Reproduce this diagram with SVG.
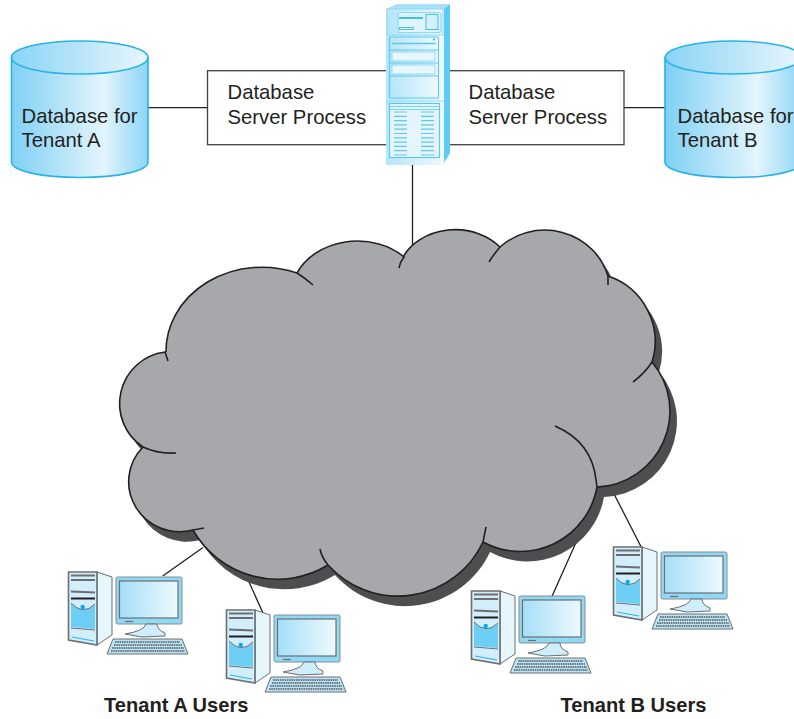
<svg xmlns="http://www.w3.org/2000/svg" xmlns:xlink="http://www.w3.org/1999/xlink" width="794" height="719" viewBox="0 0 794 719">
<style>
text{font-family:"Liberation Sans",Arial,sans-serif;fill:#231f20}
.l{font-size:20.3px}
.b{font-size:20.1px;font-weight:bold}
.c{fill:none;stroke:#231f20;stroke-width:1.3}
.box{fill:#fff;stroke:#414042;stroke-width:1.3}
.db{fill:url(#cyl);stroke:#27b3e8;stroke-width:1.6}
.dbt{fill:url(#cylt);stroke:#27b3e8;stroke-width:1.6}
.ol{fill:none;stroke:#231f20;stroke-width:1.6;stroke-linecap:butt}
.gy{fill:none;stroke:#6d6e71}
.sb{stroke:#5cc8f2;fill:none}
</style>
<defs>
<linearGradient id="cyl" x1="0" x2="1" y1="0" y2="0"><stop offset="0" stop-color="#7fd0f5"/><stop offset=".68" stop-color="#e4f5fc"/><stop offset=".72" stop-color="#d6f0fb"/><stop offset="1" stop-color="#8cd5f6"/></linearGradient>
<linearGradient id="cylt" x1="0" x2="1" y1="0" y2="0"><stop offset="0" stop-color="#8ad4f6"/><stop offset="1" stop-color="#e8f6fc"/></linearGradient>
<linearGradient id="scr" x1="0" x2="1" y1="0" y2="0"><stop offset="0" stop-color="#a5dff8"/><stop offset="1" stop-color="#eef9fd"/></linearGradient>
<linearGradient id="srv" x1="0" x2="1" y1="0" y2="0"><stop offset="0" stop-color="#b5e5fa"/><stop offset="1" stop-color="#eef9fd"/></linearGradient>
<path id="cloud" d="M143,447 A52,52 0 0 1 166,352 A96,84 0 0 1 297,273 A66,54 0 0 1 403,257 A58,48 0 0 1 500,247 A66,64 0 0 1 608,276 A69,69 0 0 1 652,362 A76,76 0 0 1 597,487 A78,78 0 0 1 483,542 A94,94 0 0 1 328,565 A97,97 0 0 1 193,530 A51,50 0 0 1 143,447 Z"/>
<g id="pc">
<path d="M97,572 L112,577 L112,635 L97,645 Z" fill="#e6f6fd" stroke="#6d6e71" stroke-width="1"/>
<path d="M68.500,572 H97 V645 L68.500,640 Z" fill="#d3eefb" stroke="#6d6e71" stroke-width="1.600"/>
<path d="M71,575.500 H95 M71,580 H95 M71,591.500 L95,592.500" class="gy" stroke-width="2"/>
<path d="M71,598.500 H95" stroke="#231f20" stroke-width="2"/>
<path d="M71,603 Q83,616 95,604 V629 L71,627 Z" fill="#6dcff6"/>
<path d="M71,603 Q83,616 95,604" class="gy" stroke-width="1"/>
<circle cx="82.700" cy="607" r="2.200" fill="#00aeef"/>
<path d="M71,628 L95,630" class="gy" stroke-width="1"/>
<path d="M72,637 L94,641" stroke="#29b6f0" stroke-width="1.200"/>
<rect x="116" y="577" width="66" height="47" rx="1.500" fill="#8fd9f7" stroke="#8a8c8e" stroke-width="1"/>
<rect x="119.500" y="581" width="58.500" height="37" fill="url(#scr)" stroke="#6d6e71" stroke-width="1.200"/>
<path d="M125,621.500 H133" stroke="#6d6e71" stroke-width="1.200"/>
<path d="M146,624 H157 Q157,630 165,633 V636 L142,637 L125,634 Q144,631 146,624 Z" fill="#cfeefb" stroke="#6d6e71" stroke-width="1"/>
<path d="M113,639 H182 L188,654 H107 Z" fill="#b9e4f6" stroke="#6d6e71" stroke-width="1"/>
<path d="M115,642 H180 M114,645 H182 M112,648 H184 M111,651 H185" stroke="#58595b" stroke-width="1.300" stroke-dasharray="1.600 .7"/>
</g>
</defs>

<g id="connectors">
<path class="c" d="M148,107.700 H208 M624,107.700 H666 M412.500,160 V250 M162.700,576 L203,547.500 M244,571 L263,613 M578,538 L551.700,597 M612,490 L641.700,548"/>
</g>

<g id="process-a"><rect class="box" x="207.500" y="70.700" width="190" height="74"/>
<text class="l" x="227.500" y="99">Database</text><text class="l" x="227.500" y="123.500">Server Process</text></g>
<g id="process-b"><rect class="box" x="440" y="70.700" width="184" height="74"/>
<text class="l" x="468.500" y="99">Database</text><text class="l" x="468.500" y="123.500">Server Process</text></g>

<g id="db-a">
<path class="db" d="M11.500,57.500 V162 C11.500,171 42,177.500 80,177.500 C118,177.500 148,171 148,162 V57.500 Z"/>
<ellipse class="dbt" cx="79.700" cy="57.500" rx="68.200" ry="16.500"/>
<text class="l" x="21.500" y="122.700">Database for</text><text class="l" x="21.500" y="146.700">Tenant A</text>
</g>
<g id="db-b">
<path class="db" d="M665,57.500 V162 C665,171 696,177.500 734,177.500 C772,177.500 802,171 802,162 V57.500 Z"/>
<ellipse class="dbt" cx="733.500" cy="57.500" rx="68.200" ry="16.500"/>
<text class="l" x="677.500" y="122.700">Database for</text><text class="l" x="677.500" y="146.700">Tenant B</text>
</g>

<g id="server">
<path d="M386,9 L397,4 H450 L444,9 Z" fill="#a8e0f8"/>
<path d="M444,9 L450,4 V153 L444,163 Z" fill="#5accf5"/>
<path d="M386,9 H444 V165 H386 Z" fill="url(#srv)"/>
<rect x="387" y="9" width="56" height="26" fill="url(#srv)" stroke="#8ed8f6" stroke-width="1"/>
<rect x="398" y="12.500" width="43" height="20" rx="2" fill="#dff4fc" stroke="#8ed8f6" stroke-width="1.200"/>
<rect x="426" y="14.500" width="12" height="15" fill="#d8f0fb" stroke="#3fbfee" stroke-width="1"/>
<path d="M399,18 H423" stroke="#3fbfee" stroke-width="2"/><path d="M399,15.500 H423" stroke="#d0eefb"/>
<rect x="399.500" y="27.500" width="14" height="2" fill="none" stroke="#3fbfee" stroke-width=".9"/>
<rect x="389.500" y="37" width="49" height="61" rx="1" fill="url(#srv)" stroke="#5cc8f2" stroke-width="1.100"/>
<path d="M392,43.500 H436" stroke="#5cc8f2" stroke-width="1.600"/>
<circle cx="434" cy="39.500" r="1" fill="#1fa8e0"/>
<path d="M390,50 H438 M390,63 H438 M390,76 H438" class="sb"/>
<rect x="392" y="52" width="43" height="9" fill="#e8f7fd" stroke="#8ed8f6"/>
<rect x="392" y="65" width="43" height="9" fill="#e8f7fd" stroke="#8ed8f6"/>
<path d="M386,101 H444" stroke="#9adcf7"/>
<rect x="389.500" y="103.500" width="50" height="54" fill="#e4f5fc" stroke="#5cc8f2" stroke-width="1.100"/>
<path d="M390,106.500 H439 M390,109.500 H439" class="sb" stroke-width=".8"/>
<path d="M394,112 H407 M421,112 H434 M394,116.300 H407 M421,116.300 H434 M394,120.600 H407 M421,120.600 H434 M394,124.900 H407 M421,124.900 H434 M394,129.200 H407 M421,129.200 H434 M394,133.500 H407 M421,133.500 H434 M394,137.800 H407 M421,137.800 H434 M394,142.100 H407 M421,142.100 H434 M394,146.400 H407 M421,146.400 H434 M394,150.700 H407 M421,150.700 H434 M394,155 H407 M421,155 H434" stroke="#5cc8f2" stroke-width="1.200"/>
</g>

<g id="cloud-network">
<use href="#cloud" xlink:href="#cloud" transform="translate(7,10)" fill="#4d4e50"/>
<use href="#cloud" xlink:href="#cloud" fill="#a7a8ab"/>
<path class="ol" d="M176,453 Q158,454 143,447 A52,52 0 0 1 165,352 L168,361"/>
<path class="ol" d="M166,352 A96,84 0 0 1 297,273 Q305,278 313,285"/>
<path class="ol" d="M297,273 A66,54 0 0 1 404,257 Q400,262 399,268"/>
<path class="ol" d="M403,257 A58,48 0 0 1 500,247 Q494,254 489,262"/>
<path class="ol" d="M500,247 A66,64 0 0 1 608,276 V285"/>
<path class="ol" d="M608,276 A69,69 0 0 1 652,362 Q645,373 633,382"/>
<path class="ol" d="M652,362 A76,76 0 0 1 597,487"/>
<path class="ol" d="M555,426 Q592,442 596,480 L597,487 A78,78 0 0 1 483,542 L486,527"/>
<path class="ol" d="M483,542 A94,94 0 0 1 328,565 Q322,558 320,549"/>
<path class="ol" d="M328,565 A97,97 0 0 1 193,530 L204,528"/>
<path class="ol" d="M193,530 A51,50 0 0 1 143,447"/>
</g>

<g id="pc-a1"><use href="#pc" xlink:href="#pc"/></g>
<g id="pc-a2"><use href="#pc" xlink:href="#pc" transform="translate(158,38)"/></g>
<g id="pc-b1"><use href="#pc" xlink:href="#pc" transform="translate(403,19)"/></g>
<g id="pc-b2"><use href="#pc" xlink:href="#pc" transform="translate(545,-25)"/></g>

<g id="label-a"><text class="b" x="104" y="711.500">Tenant A Users</text></g>
<g id="label-b"><text class="b" x="560.500" y="711.500">Tenant B Users</text></g>
</svg>
